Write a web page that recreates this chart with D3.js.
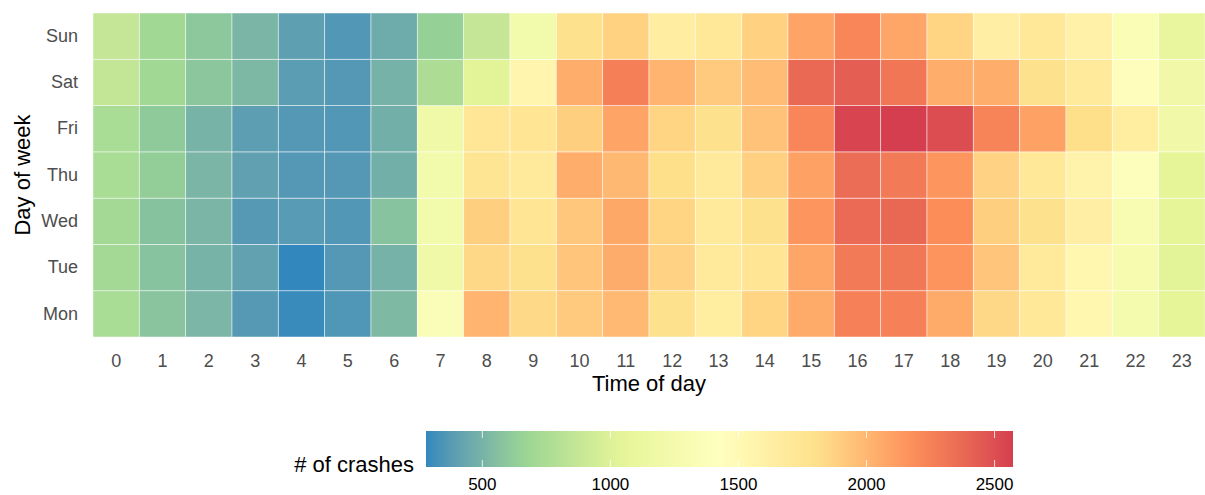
<!DOCTYPE html>
<html>
<head>
<meta charset="utf-8">
<script src="https://cdn.jsdelivr.net/npm/d3@7"></script>
<style>
  body { margin: 0; background: #fff; }
  svg text { font-family: "Liberation Sans", Arial, sans-serif; }
</style>
</head>
<body>
<svg id="vis" width="1205" height="495"></svg>
<script>
// tick labels / categories
var hours = ["0","1","2","3","4","5","6","7","8","9","10","11","12","13","14","15","16","17","18","19","20","21","22","23"];
var days = ["Mon","Tue","Wed","Thu","Fri","Sat","Sun"];

// crash counts by hour, one array per day
var mon = [740,580,515,370,295,355,530,1350,2015,1840,1910,1990,1800,1650,1860,2060,2255,2255,2060,1845,1710,1540,1260,1045];
var tue = [710,575,500,415,280,365,495,1200,1845,1800,1930,2050,1870,1680,1740,2080,2290,2300,2160,1930,1690,1540,1280,1030];
var wed = [710,570,510,370,380,360,575,1230,1890,1740,1925,2070,1860,1680,1800,2150,2370,2380,2190,1890,1800,1630,1300,1045];
var thu = [740,630,510,405,365,365,480,1230,1750,1680,2045,1995,1810,1690,1885,2100,2355,2290,2150,1870,1710,1580,1400,1040];
var fri = [740,611,500,395,365,360,480,1195,1728,1740,1890,2090,1860,1800,1950,2225,2545,2572,2510,2240,2100,1810,1650,1210];
var sat = [860,700,590,525,390,365,495,760,1030,1550,2045,2260,2010,1910,1980,2375,2430,2310,2045,2045,1800,1680,1450,1210];
var sun = [870,700,600,510,400,360,460,640,870,1230,1800,1875,1640,1710,1880,2090,2225,2080,1860,1630,1710,1600,1340,1100];

var legendTicks = [500, 1000, 1500, 2000, 2500];

var byDay = {Mon: mon, Tue: tue, Wed: wed, Thu: thu, Fri: fri, Sat: sat, Sun: sun};

// flatten into cells
var cells = [];
days.forEach(function(d){
  byDay[d].forEach(function(v, i){
    cells.push({day: d, hour: hours[i], value: v});
  });
});

var svg = d3.select("#vis");

var margin = {top: 13, right: 0, bottom: 158, left: 93};
var plotWidth = 1205 - margin.left - margin.right;
var plotHeight = 495 - margin.top - margin.bottom;

var xScale = d3.scaleBand().domain(hours).range([0, plotWidth]);
var yScale = d3.scaleBand().domain(days.slice().reverse()).range([0, plotHeight]);

// reversed Spectral (7 classes), interpolated in Lab like ggplot distiller
var spectral = ["#3288bd","#99d594","#e6f598","#ffffbf","#fee08b","#fc8d59","#d53e4f"];
var extent = d3.extent(cells, function(c){ return c.value; });
var interp = d3.piecewise(d3.interpolateLab, spectral);
var colorScale = d3.scaleSequential(interp).domain(extent);

var plot = svg.append("g")
  .attr("id", "plot")
  .attr("transform", "translate(" + margin.left + "," + margin.top + ")");

plot.selectAll("rect.cell")
  .data(cells)
  .enter()
  .append("rect")
  .attr("class", "cell")
  .attr("x", function(d){ return xScale(d.hour); })
  .attr("y", function(d){ return yScale(d.day); })
  .attr("width", xScale.bandwidth())
  .attr("height", yScale.bandwidth())
  .attr("fill", function(d){ return colorScale(d.value); })
  .attr("stroke", "#ffffff")
  .attr("stroke-opacity", 0.6)
  .attr("stroke-width", 0.8);

// axes (no lines, just labels)
var xAxis = d3.axisBottom(xScale).tickSize(0).tickPadding(17);
var xGroup = plot.append("g")
  .attr("id", "x-axis")
  .attr("transform", "translate(0," + plotHeight + ")")
  .call(xAxis);
xGroup.select(".domain").remove();
xGroup.selectAll("text")
  .style("font-size", "18px")
  .attr("fill", "#4d4d4d");

var yAxis = d3.axisLeft(yScale).tickSize(0).tickPadding(15);
var yGroup = plot.append("g")
  .attr("id", "y-axis")
  .call(yAxis);
yGroup.select(".domain").remove();
yGroup.selectAll("text")
  .style("font-size", "18px")
  .attr("fill", "#4d4d4d");

plot.append("text")
  .style("font-size", "22px")
  .attr("x", plotWidth / 2)
  .attr("y", plotHeight + 54)
  .attr("fill", "#000")
  .style("text-anchor", "middle")
  .text("Time of day");

plot.append("text")
  .style("font-size", "22px")
  .attr("transform", "rotate(-90)")
  .attr("x", -(plotHeight / 2))
  .attr("y", -margin.left + 30)
  .attr("fill", "#000")
  .style("text-anchor", "middle")
  .text("Day of week");

// colour bar legend
var barLeft = 426, barRight = 1013, barTop = 431, barHeight = 36;
var legendScale = d3.scaleLinear().domain(extent).range([barLeft, barRight]);

var grad = svg.append("defs").append("linearGradient")
  .attr("id", "crashGrad")
  .attr("x1", "0%").attr("x2", "100%")
  .attr("y1", "0%").attr("y2", "0%");
grad.selectAll("stop")
  .data(d3.range(0, 1.0001, 0.02))
  .enter()
  .append("stop")
  .attr("offset", function(t){ return (t * 100) + "%"; })
  .attr("stop-color", function(t){ return interp(t); });

svg.append("rect")
  .attr("x", barLeft)
  .attr("y", barTop)
  .attr("width", barRight - barLeft)
  .attr("height", barHeight)
  .attr("fill", "url(#crashGrad)");

var tickG = svg.append("g").attr("id", "legend-ticks");
legendTicks.forEach(function(t){
  var x = legendScale(t);
  tickG.append("line")
    .attr("x1", x).attr("x2", x)
    .attr("y1", barTop).attr("y2", barTop + 7)
    .attr("stroke", "#fff").attr("stroke-opacity", 0.8).attr("stroke-width", 1);
  tickG.append("line")
    .attr("x1", x).attr("x2", x)
    .attr("y1", barTop + barHeight - 7).attr("y2", barTop + barHeight)
    .attr("stroke", "#fff").attr("stroke-opacity", 0.8).attr("stroke-width", 1);
  tickG.append("text")
    .style("font-size", "17px")
    .attr("x", x)
    .attr("y", 490)
    .attr("fill", "#000")
    .style("text-anchor", "middle")
    .text(t);
});

svg.append("text")
  .style("font-size", "22px")
  .attr("x", 414)
  .attr("y", 472)
  .attr("fill", "#000")
  .style("text-anchor", "end")
  .text("# of crashes");
</script>
</body>
</html>
